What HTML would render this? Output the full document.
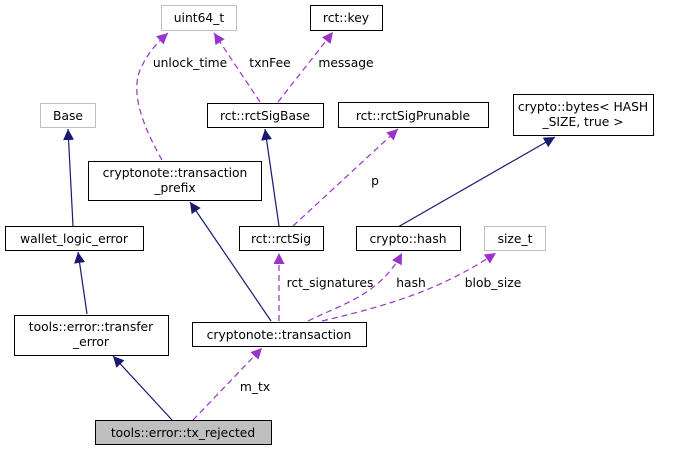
<!DOCTYPE html>
<html><head><style>html,body{margin:0;padding:0;background:#fff;}svg{display:block;}text{font-family:"DejaVu Sans","Liberation Sans",sans-serif;font-size:12.3px;fill:#000;}</style></head>
<body>
<svg width="678" height="451" viewBox="0 0 678 451" xmlns="http://www.w3.org/2000/svg">
<defs>
<marker id="an" markerWidth="12" markerHeight="12" refX="11" refY="5.5" orient="auto" markerUnits="userSpaceOnUse"><path d="M0,0 L11,5.5 L0,11 z" fill="#191970"/></marker>
<marker id="ap" markerWidth="12" markerHeight="12" refX="11" refY="5.5" orient="auto" markerUnits="userSpaceOnUse"><path d="M0,0 L11,5.5 L0,11 z" fill="#9a32cd"/></marker>
</defs>
<g fill="none" stroke="#191970" stroke-width="1.2" marker-end="url(#an)">
<line x1="73" y1="226" x2="68" y2="129"/>
<line x1="87" y1="314" x2="78" y2="252"/>
<line x1="172" y1="420" x2="113" y2="356"/>
<line x1="279" y1="226" x2="265" y2="129"/>
<line x1="271" y1="321" x2="190" y2="202"/>
<line x1="398" y1="227" x2="555" y2="137"/>
</g>
<g fill="none" stroke="#9a32cd" stroke-width="1.2" stroke-dasharray="6,4" marker-end="url(#ap)">
<path d="M162,160 C145,130 130,95 140,70 C148,52 158,42 168,33"/>
<line x1="260" y1="102" x2="214" y2="33"/>
<line x1="278" y1="102" x2="333" y2="32"/>
<line x1="293" y1="226" x2="398" y2="129"/>
<line x1="279" y1="321" x2="279" y2="253"/>
<path d="M308,321 C340,305 380,295 402,253"/>
<path d="M322,321 C390,305 440,290 496,253"/>
<line x1="193" y1="420" x2="262" y2="348"/>
</g>
<g stroke-width="1">
<rect x="161.5" y="5.5" width="75" height="25" fill="#fff" stroke="#bfbfbf"/>
<rect x="310.5" y="5.5" width="72" height="25" fill="#fff" stroke="#000"/>
<rect x="40.5" y="103.5" width="55" height="24" fill="#fff" stroke="#bfbfbf"/>
<rect x="207.5" y="103.5" width="116" height="24" fill="#fff" stroke="#000"/>
<rect x="338.5" y="102.5" width="150" height="25" fill="#fff" stroke="#000"/>
<rect x="513.5" y="94.5" width="140" height="41" fill="#fff" stroke="#000"/>
<rect x="88.5" y="161.5" width="173" height="39" fill="#fff" stroke="#000"/>
<rect x="5.5" y="226.5" width="138" height="24" fill="#fff" stroke="#000"/>
<rect x="239.5" y="226.5" width="84" height="24" fill="#fff" stroke="#000"/>
<rect x="356.5" y="226.5" width="104" height="24" fill="#fff" stroke="#000"/>
<rect x="484.5" y="226.5" width="61" height="24" fill="#fff" stroke="#bfbfbf"/>
<rect x="14.5" y="315.5" width="154" height="40" fill="#fff" stroke="#000"/>
<rect x="192.5" y="322.5" width="174" height="24" fill="#fff" stroke="#000"/>
<rect x="95.5" y="420.5" width="176" height="24" fill="#bfbfbf" stroke="#000"/>
</g>
<g text-anchor="middle">
<text x="199" y="22">uint64_t</text>
<text x="346" y="22">rct::key</text>
<text x="68" y="120">Base</text>
<text x="265" y="120">rct::rctSigBase</text>
<text x="413" y="120">rct::rctSigPrunable</text>
<text x="583" y="111">crypto::bytes&lt; HASH</text>
<text x="583" y="126">_SIZE, true &gt;</text>
<text x="175" y="177">cryptonote::transaction</text>
<text x="175" y="192">_prefix</text>
<text x="74" y="243">wallet_logic_error</text>
<text x="281" y="243">rct::rctSig</text>
<text x="408" y="243">crypto::hash</text>
<text x="515" y="243">size_t</text>
<text x="91" y="331">tools::error::transfer</text>
<text x="91" y="346">_error</text>
<text x="279" y="339">cryptonote::transaction</text>
<text x="183" y="437">tools::error::tx_rejected</text>
<text x="190" y="67">unlock_time</text>
<text x="270" y="67">txnFee</text>
<text x="346" y="67">message</text>
<text x="375" y="185">p</text>
<text x="330" y="287">rct_signatures</text>
<text x="411" y="287">hash</text>
<text x="493" y="287">blob_size</text>
<text x="255" y="391">m_tx</text>
</g>
</svg>
</body></html>
